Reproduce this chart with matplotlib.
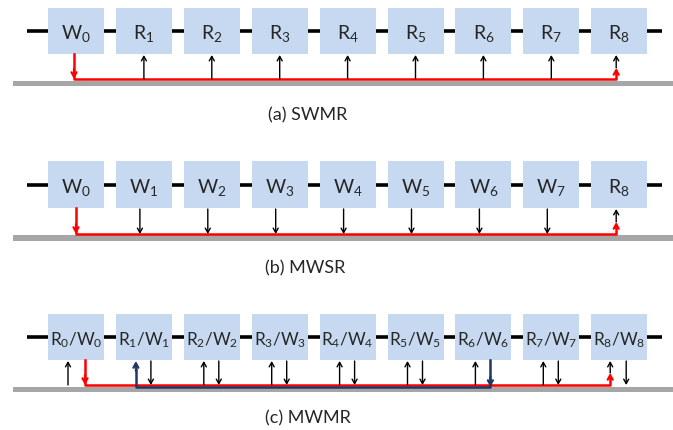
import matplotlib
matplotlib.use("Agg")
import matplotlib.pyplot as plt
from matplotlib.patches import Rectangle, FancyArrowPatch

plt.rcParams['font.family'] = ['Lato', 'DejaVu Sans']
plt.rcParams['mathtext.fontset'] = 'custom'
plt.rcParams['mathtext.rm'] = 'Lato'
plt.rcParams['mathtext.it'] = 'Lato'

labels_a = [r'$\mathrm{W_0}$'] + [r'$\mathrm{R_%d}$' % i for i in range(1, 9)]
labels_b = [r'$\mathrm{W_%d}$' % i for i in range(0, 8)] + [r'$\mathrm{R_8}$']
labels_c = [r'$\mathrm{R_%d/W_%d}$' % (i, i) for i in range(0, 9)]
captions = ['(a) SWMR', '(b) MWSR', '(c) MWMR']

W, H = 673, 431
fig = plt.figure(figsize=(W / 100, H / 100), dpi=100)
ax = fig.add_axes([0, 0, 1, 1])
ax.set_xlim(0, W)
ax.set_ylim(H, 0)
ax.axis('off')

BOX = '#c6d9f0'
GRAY = '#a6a6a6'
RED = '#ff0000'
NAVY = '#1f3864'
TXT = '#262626'
x0, pitch, bw = 48, 67.9, 56

def arrow(x, y1, y2, color='black', lw=1.0, zorder=5):
    a = FancyArrowPatch((x, y1), (x, y2), arrowstyle='->,head_length=3.2,head_width=1.8',
                        mutation_scale=1.0, color=color, lw=lw, zorder=zorder,
                        shrinkA=0, shrinkB=0)
    ax.add_patch(a)

def panel(labels, top, bot, liney, grayt, grayb, fs):
    ax.plot([27, 662], [liney, liney], color='black', lw=2.6, zorder=1, solid_capstyle='butt')
    ax.add_patch(Rectangle((13, grayt), W - 13, grayb - grayt, color=GRAY, lw=0, zorder=1))
    for i, lab in enumerate(labels):
        ax.add_patch(Rectangle((x0 + i * pitch, top), bw, bot - top, color=BOX, lw=0, zorder=2))
        ax.text(x0 + i * pitch + bw / 2, (top + bot) / 2 + 2, lab, ha='center', va='center',
                fontsize=fs, color=TXT, zorder=3)

def cx(i):
    return x0 + i * pitch + bw / 2

# (a) SWMR
panel(labels_a, 9, 55, 32, 82, 87, 14)
ax.plot([cx(0) - 2, cx(0) - 2, cx(8) - 3, cx(8) - 3], [55, 80, 80, 72], color=RED, lw=1.8, zorder=4)
arrow(cx(0) - 2, 70, 80, RED, 1.6)
arrow(cx(8) - 3, 74, 69, RED, 1.6)
for i in range(1, 8):
    arrow(cx(i), 80, 56)
arrow(cx(8) - 3, 69, 56)
ax.text(308, 115, captions[0], ha='center', va='center', fontsize=13, color=TXT)

# (b) MWSR
panel(labels_b, 162, 209, 186, 236, 242, 14)
ax.plot([cx(0), cx(0), cx(8) - 3, cx(8) - 3], [209, 235, 235, 227], color=RED, lw=1.8, zorder=4)
arrow(cx(0), 225, 235, RED, 1.6)
arrow(cx(8) - 3, 229, 223, RED, 1.6)
for i in range(1, 8):
    arrow(cx(i) - 4, 210, 235)
arrow(cx(8) - 3, 223, 210)
ax.text(305, 268, captions[1], ha='center', va='center', fontsize=13, color=TXT)

# (c) MWMR
panel(labels_c, 315, 361, 338, 388, 393, 12.3)
up = [cx(i) - 8 for i in range(9)]
dn = [cx(i) + 7 for i in range(9)]
ax.plot([dn[0] + 2, dn[0] + 2, up[8] - 1, up[8] - 1], [361, 386, 386, 378], color=RED, lw=1.8, zorder=4)
arrow(dn[0] + 2, 376, 386, RED, 1.6)
arrow(up[8] - 1, 380, 374, RED, 1.6)
ax.plot([dn[6], dn[6], up[1], up[1]], [361, 388.5, 388.5, 370], color=NAVY, lw=1.8, zorder=4)
arrow(dn[6], 378, 388, NAVY, 1.6)
arrow(up[1], 372, 362, NAVY, 1.6)
for i in range(9):
    if i != 1 and i != 8:
        arrow(up[i], 386, 362)
    if i != 0 and i != 6:
        arrow(dn[i], 362, 386)
arrow(up[8] - 1, 374, 362)
ax.text(308, 418, captions[2], ha='center', va='center', fontsize=13, color=TXT)

fig.savefig('out.png', dpi=100)
